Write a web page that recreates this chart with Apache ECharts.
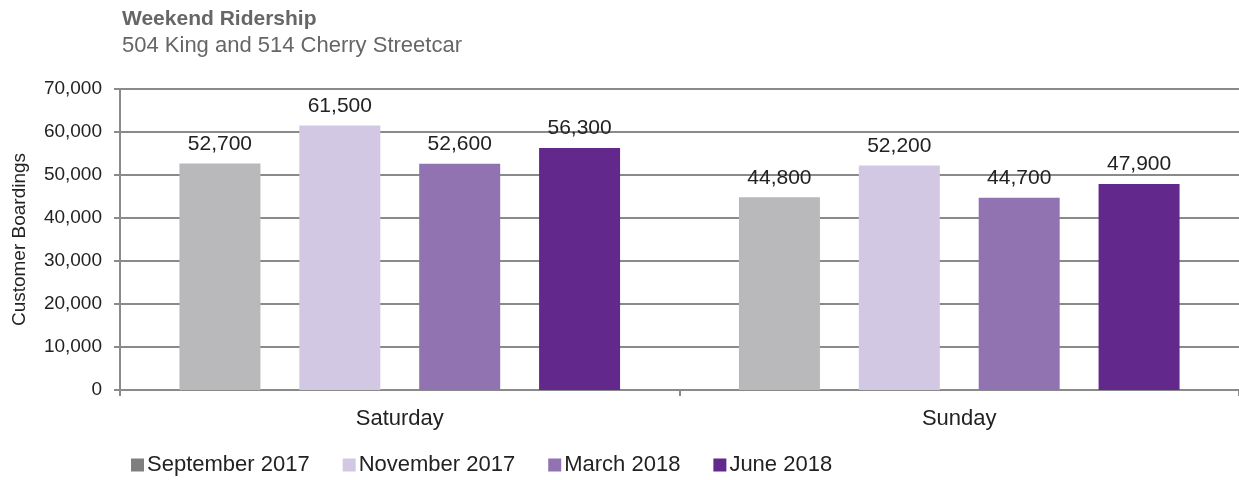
<!DOCTYPE html>
<html>
<head>
<meta charset="utf-8">
<script src="https://cdn.jsdelivr.net/npm/echarts@6/dist/echarts.min.js"></script>
<style>
  html, body { margin: 0; padding: 0; background: #fff; }
  #chart { width: 1239px; height: 480px; }
</style>
</head>
<body>
<div id="chart"></div>
<script>
// Weekend streetcar boardings by survey period
const days = ['Saturday', 'Sunday'];
const periods = ['September 2017', 'November 2017', 'March 2018', 'June 2018'];
const sep2017 = [52700, 44800];
const nov2017 = [61500, 52200];
const mar2018 = [52600, 44700];
const jun2018 = [56300, 47900];
const yTicks = [0, 10000, 20000, 30000, 40000, 50000, 60000, 70000];

const barColors = ['#b9b9bc', '#d2c8e3', '#9173b1', '#63288b'];
const legendColors = ['#7f7f7f', '#d2c8e3', '#9173b1', '#63288b'];
const seriesValues = [sep2017, nov2017, mar2018, jun2018];
const font = '"Liberation Sans", Arial, Helvetica, sans-serif';
const fmt = v => v.toLocaleString('en-US');

const chart = echarts.init(document.getElementById('chart'), null, { renderer: 'canvas' });
chart.setOption({
  animation: false,
  textStyle: { fontFamily: font },
  title: {
    text: 'Weekend Ridership',
    subtext: '504 King and 514 Cherry Streetcar',
    left: 117,
    top: 4,
    itemGap: 5,
    textStyle: { fontFamily: font, fontSize: 21, fontWeight: 'bold', color: '#666' },
    subtextStyle: { fontFamily: font, fontSize: 22, color: '#666' }
  },
  legend: {
    left: 126,
    top: 449,
    itemWidth: 13,
    itemHeight: 13,
    itemGap: 33,
    icon: 'rect',
    textStyle: { fontFamily: font, fontSize: 22, color: '#222', padding: [0, 0, 0, -2] },
    data: periods.map((p, i) => ({ name: p, itemStyle: { color: legendColors[i] } }))
  },
  grid: { left: 120, right: -3, top: 89, bottom: 90, containLabel: false },
  xAxis: {
    type: 'category',
    data: days,
    axisLine: { lineStyle: { color: '#8a8a8a', width: 2 } },
    axisTick: { show: true, length: 6, lineStyle: { color: '#8a8a8a', width: 2 } },
    axisLabel: { fontFamily: font, fontSize: 22, color: '#222', margin: 18 }
  },
  yAxis: {
    type: 'value',
    min: 0,
    max: 70000,
    interval: 10000,
    name: 'Customer Boardings',
    nameLocation: 'middle',
    nameGap: 91,
    nameTextStyle: { fontFamily: font, fontSize: 19, color: '#222' },
    axisLine: { show: true, lineStyle: { color: '#8a8a8a', width: 2 } },
    axisTick: { show: true, length: 6, lineStyle: { color: '#8a8a8a', width: 2 } },
    axisLabel: {
      fontFamily: font, fontSize: 19, color: '#222', margin: 18,
      formatter: v => yTicks.includes(v) ? fmt(v) : ''
    },
    splitLine: { show: true, lineStyle: { color: '#8a8a8a', width: 2 } }
  },
  series: periods.map((p, i) => ({
    name: p,
    type: 'bar',
    data: seriesValues[i],
    barWidth: 81,
    barGap: '48%',
    itemStyle: { color: barColors[i] },
    label: {
      show: true,
      position: 'top',
      distance: 9,
      fontFamily: font,
      fontSize: 21,
      color: '#222',
      formatter: d => fmt(d.value)
    }
  }))
});
</script>
</body>
</html>
